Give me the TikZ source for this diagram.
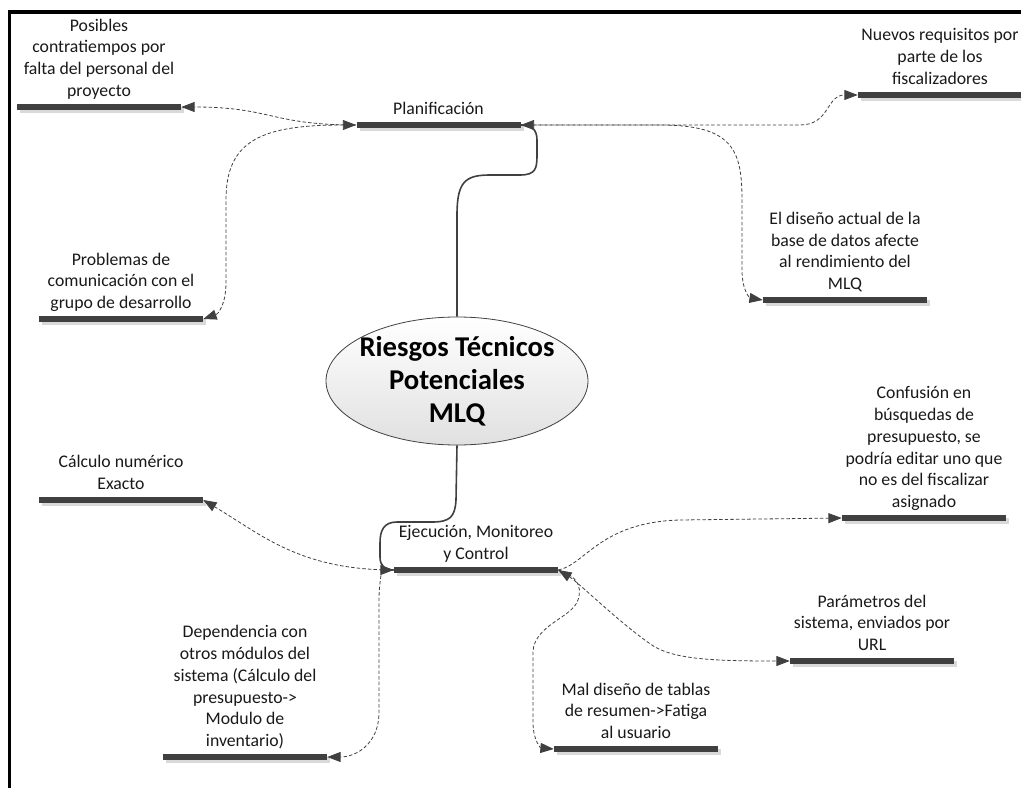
\documentclass[tikz,border=0pt]{standalone}
\usepackage{fontspec}
\setmainfont{Carlito}
\usetikzlibrary{arrows.meta,shadows,shapes.geometric}
\definecolor{dk}{HTML}{404040}
\definecolor{shd}{HTML}{D9D9D9}
\tikzset{
  >={Triangle[length=10pt,width=7.5pt]},
  topicbar/.style={rectangle, fill=dk, draw=none, inner sep=0pt,
    minimum width=123pt, minimum height=4.2pt,
    drop shadow={shadow xshift=2.25pt, shadow yshift=-2.25pt, fill=shd, opacity=1}},
  lbl/.style={anchor=south, inner sep=0pt, text depth=0pt, align=center,
    font=\fontsize{13.3}{16.4}\selectfont, yshift=7.5pt, text=black!90},
  dcon/.style={draw=dk, line width=0.6pt, dash pattern=on 2.6pt off 1.6pt},
  scon/.style={draw=dk, line width=1.2pt},
  core/.style={ellipse, draw=dk, line width=0.6pt, inner sep=0pt,
    minimum width=196.5pt, minimum height=96pt,
    top color=white, bottom color=black!12},
  coretext/.style={inner sep=0pt, align=center,
    font=\fontsize{21.5}{24.75}\selectfont\bfseries},
}
\begin{document}
\begin{tikzpicture}[x=0.75pt,y=-0.75pt]
\useasboundingbox (0,0) rectangle (1021,788);
% page frame
\draw[line width=2.3pt] (9.5,800) -- (9.5,12) -- (1030,12);

% central topic
\node[core] (ell) at (457,381) {};
\node[coretext] (ell-t) at (ell.center) {Riesgos Técnicos\\Potenciales\\MLQ};

% topic bars
\node[topicbar] (plan)  at (438.5,125) {};
\node[topicbar] (exec)  at (476,570) {};
\node[topicbar] (pos)   at (99,107) {};
\node[topicbar] (prob)  at (121,319) {};
\node[topicbar] (nue)   at (940,95) {};
\node[topicbar] (dis)   at (845,300) {};
\node[topicbar] (calc)  at (121,500) {};
\node[topicbar] (conf)  at (924,518) {};
\node[topicbar] (param) at (872,661) {};
\node[topicbar] (mal)   at (636,749) {};
\node[topicbar] (dep)   at (245,757) {};

% topic texts
\node[lbl] (plan-t)  at (plan)  {Planificación};
\node[lbl] (exec-t)  at (exec)  {Ejecución, Monitoreo\\y Control};
\node[lbl] (pos-t)   at (pos)   {Posibles\\contratiempos por\\falta del personal del\\proyecto};
\node[lbl] (prob-t)  at (prob)  {Problemas de\\comunicación con el\\grupo de desarrollo};
\node[lbl] (nue-t)   at (nue)   {Nuevos requisitos por\\parte de los\\fiscalizadores};
\node[lbl] (dis-t)   at (dis)   {El diseño actual de la\\base de datos afecte\\al rendimiento del\\MLQ};
\node[lbl] (calc-t)  at (calc)  {Cálculo numérico\\Exacto};
\node[lbl] (conf-t)  at (conf)  {Confusión en\\búsquedas de\\presupuesto, se\\podría editar uno que\\no es del fiscalizar\\asignado};
\node[lbl] (param-t) at (param) {Parámetros del\\sistema, enviados por\\URL};
\node[lbl] (mal-t)   at (mal)   {Mal diseño de tablas\\de resumen->Fatiga\\al usuario};
\node[lbl] (dep-t)   at (dep)   {Dependencia con\\otros módulos del\\sistema (Cálculo del\\presupuesto->\\Modulo de\\inventario)};

% main branches
\draw[scon] (ell.north) -- (457,215) .. controls (457,182) and (465,175) .. (490,175)
  -- (520,175) .. controls (536,175) and (537,168) .. (537,155)
  -- (537,140) .. controls (537,129) and (531,125) .. (plan.east);
\draw[scon] (ell.south) -- (456,500) .. controls (455,517) and (450,522) .. (432,522)
  -- (397,522) .. controls (384,522) and (380,530) .. (380,543)
  -- (380,557) .. controls (380,566) and (385,570) .. (exec.west);

% planning sub-topics
\draw[dcon,->] (plan.west) .. controls (270,125) and (272,107) .. (pos.east);
\draw[dcon,<->] (plan.west) .. controls (262,125) and (226,140) .. (226,200)
  -- (226,282) .. controls (226,305) and (218,314) .. (prob.east);
\draw[dcon,->] (plan.east) -- (800,125) .. controls (830,125) and (826,95) .. (nue.west);
\draw[dcon,<->] (plan.east) -- (660,125) .. controls (733,125) and (742,150) .. (742,200)
  -- (742,270) .. controls (742,291) and (750,298) .. (dis.west);

% execution sub-topics
\draw[dcon,->] (exec.west) .. controls (300,570) and (262,535) .. (calc.east);
\draw[dcon,<->] (exec.west) .. controls (383,570) and (379,580) .. (379,600)
  -- (379,712) .. controls (379,745) and (355,757) .. (dep.east);
\draw[dcon,->] (exec.east) .. controls (585,565) and (600,522) .. (680,520) -- (conf.west);
\draw[dcon,<->] (exec.east) .. controls (578,582) and (625,628) .. (655,647)
  .. controls (678,660) and (720,661) .. (param.west);
\draw[dcon,->] (exec.east) .. controls (575,575) and (583,585) .. (578,600)
  .. controls (572,618) and (534,625) .. (533,652)
  -- (533,722) .. controls (533,741) and (541,748) .. (mal.west);
\end{tikzpicture}
\end{document}
